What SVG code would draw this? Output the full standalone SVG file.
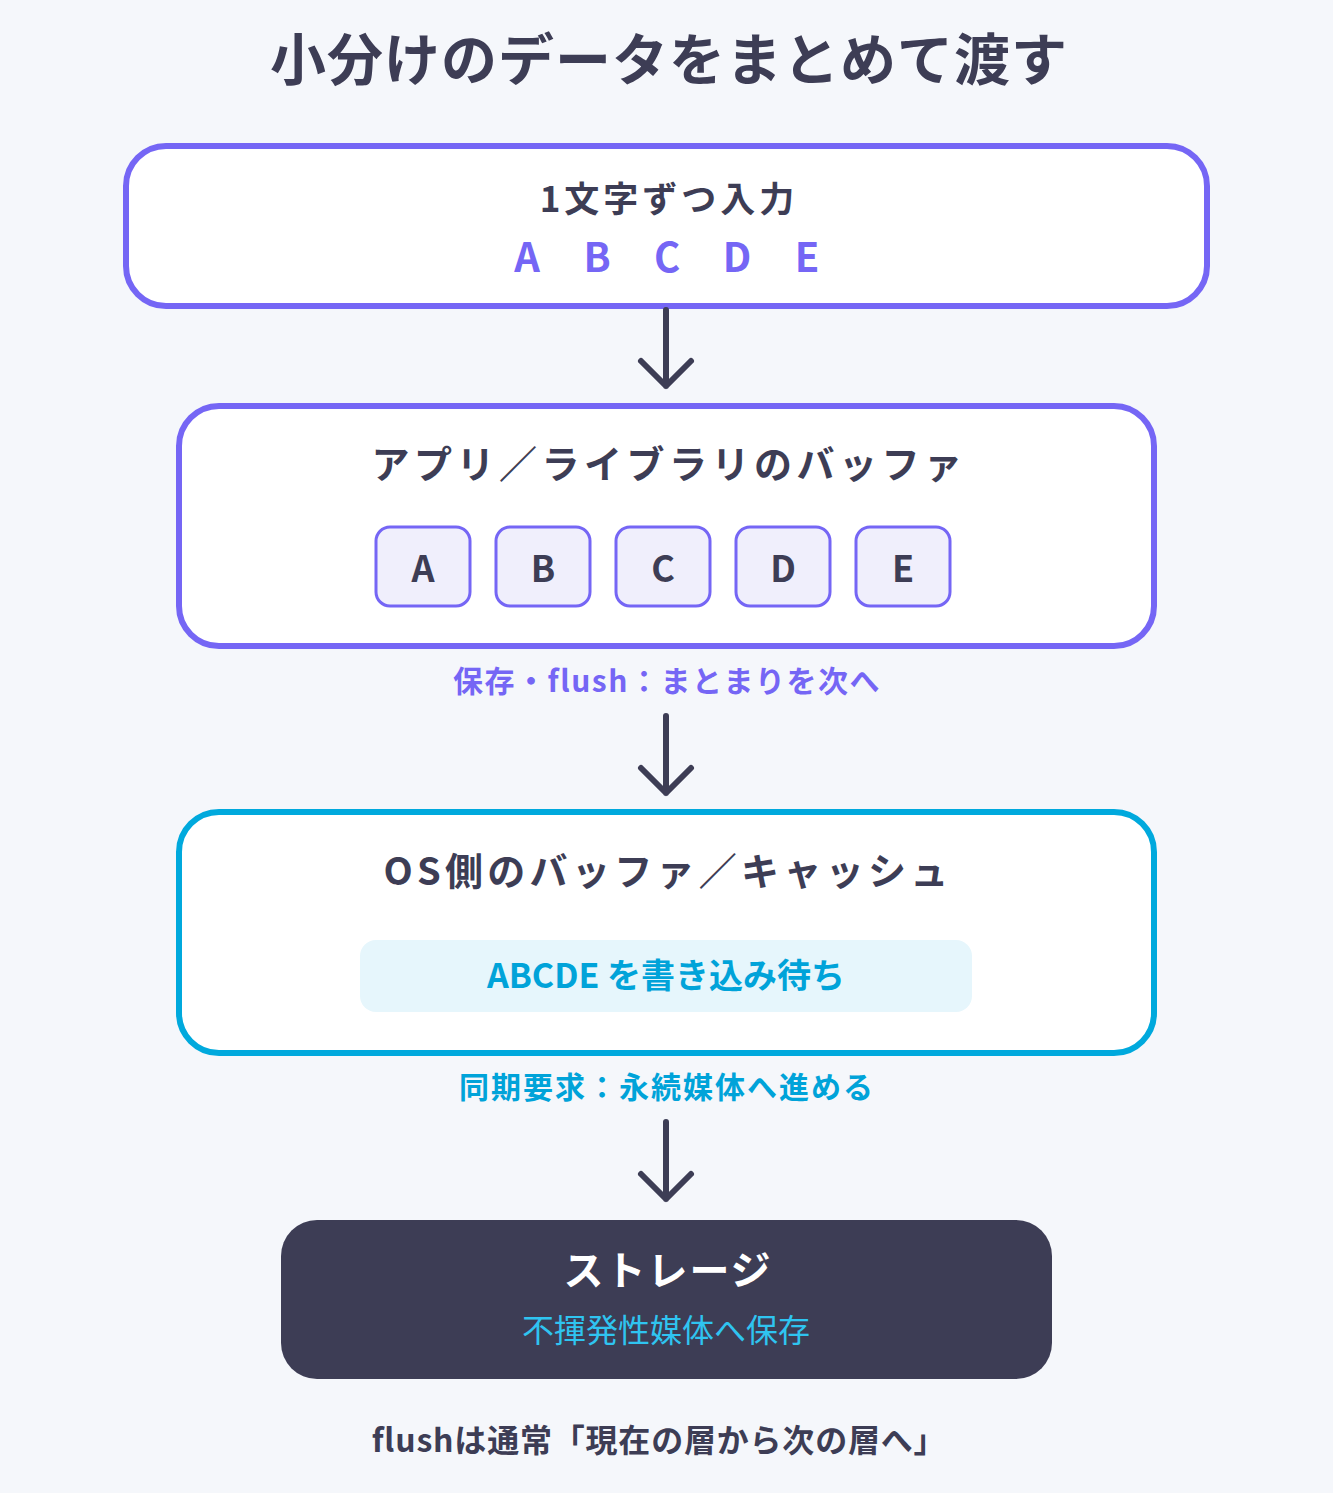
<svg xmlns="http://www.w3.org/2000/svg" width="1333" height="1493" viewBox="0 0 1333 1493">
<style>
text{font-family:"Noto Sans CJK JP","Noto Sans",sans-serif;text-anchor:middle}
.d{fill:#3d3d55}
.p{fill:#7566f5}
.c{fill:#00a3d9}
.arr{fill:none;stroke:#3d3d55;stroke-width:6;stroke-linecap:round;stroke-linejoin:round}
.cell{fill:#f0effc;stroke:#7566f5;stroke-width:3}
</style>
<rect width="1333" height="1493" fill="#f5f7fb"/>
<text x="669" y="80" font-size="56" font-weight="700" letter-spacing="1" class="d">小分けのデータをまとめて渡す</text>
<g id="input">
<rect x="126" y="146" width="1081" height="160" rx="40" fill="#fff" stroke="#7566f5" stroke-width="6"/>
<text x="669" y="212" font-size="35" font-weight="700" letter-spacing="4" class="d">1文字ずつ入力</text>
<g font-size="40" font-weight="700" class="p">
<text x="527" y="272">A</text><text x="597" y="272">B</text><text x="667" y="272">C</text><text x="737" y="272">D</text><text x="807" y="272">E</text>
</g>
</g>
<g id="connectors">
<path class="arr" d="M666 310V386M641 361L666 386L691 361"/>
<path class="arr" d="M666 716V793M641 768L666 793L691 768"/>
<path class="arr" d="M666 1122V1199M641 1174L666 1199L691 1174"/>
<text x="667" y="692" font-size="30" font-weight="700" letter-spacing="1.5" class="p">保存・flush：まとまりを次へ</text>
<text x="667" y="1098" font-size="30" font-weight="700" letter-spacing="2" class="c">同期要求：永続媒体へ進める</text>
</g>
<g id="appbuffer">
<rect x="179" y="406" width="975" height="240" rx="40" fill="#fff" stroke="#7566f5" stroke-width="6"/>
<text x="669" y="478" font-size="38" font-weight="700" letter-spacing="4.5" class="d">アプリ／ライブラリのバッファ</text>
<rect class="cell" x="376" y="527" width="94" height="79" rx="14"/>
<rect class="cell" x="496" y="527" width="94" height="79" rx="14"/>
<rect class="cell" x="616" y="527" width="94" height="79" rx="14"/>
<rect class="cell" x="736" y="527" width="94" height="79" rx="14"/>
<rect class="cell" x="856" y="527" width="94" height="79" rx="14"/>
<g font-size="36" font-weight="700" class="d">
<text x="423" y="582">A</text><text x="543" y="582">B</text><text x="663" y="582">C</text><text x="783" y="582">D</text><text x="903" y="582">E</text>
</g>
</g>
<g id="osbuffer">
<rect x="179" y="812" width="975" height="241" rx="40" fill="#fff" stroke="#00a9dd" stroke-width="6"/>
<text x="668" y="885" font-size="38" font-weight="700" letter-spacing="4.3" class="d">OS側のバッファ／キャッシュ</text>
<rect x="360" y="940" width="612" height="72" rx="16" fill="#e6f6fc"/>
<text x="666" y="988" font-size="34" font-weight="700" class="c">ABCDE を書き込み待ち</text>
</g>
<g id="storage">
<rect x="281" y="1220" width="771" height="159" rx="36" fill="#3d3d55"/>
<text x="668" y="1285" font-size="40" font-weight="700" letter-spacing="2" fill="#fff">ストレージ</text>
<text x="666" y="1342" font-size="32" fill="#2fc4f0">不揮発性媒体へ保存</text>
</g>
<text x="659" y="1452" font-size="32" font-weight="700" letter-spacing="0.8" class="d">flushは通常「現在の層から次の層へ」</text>
</svg>
